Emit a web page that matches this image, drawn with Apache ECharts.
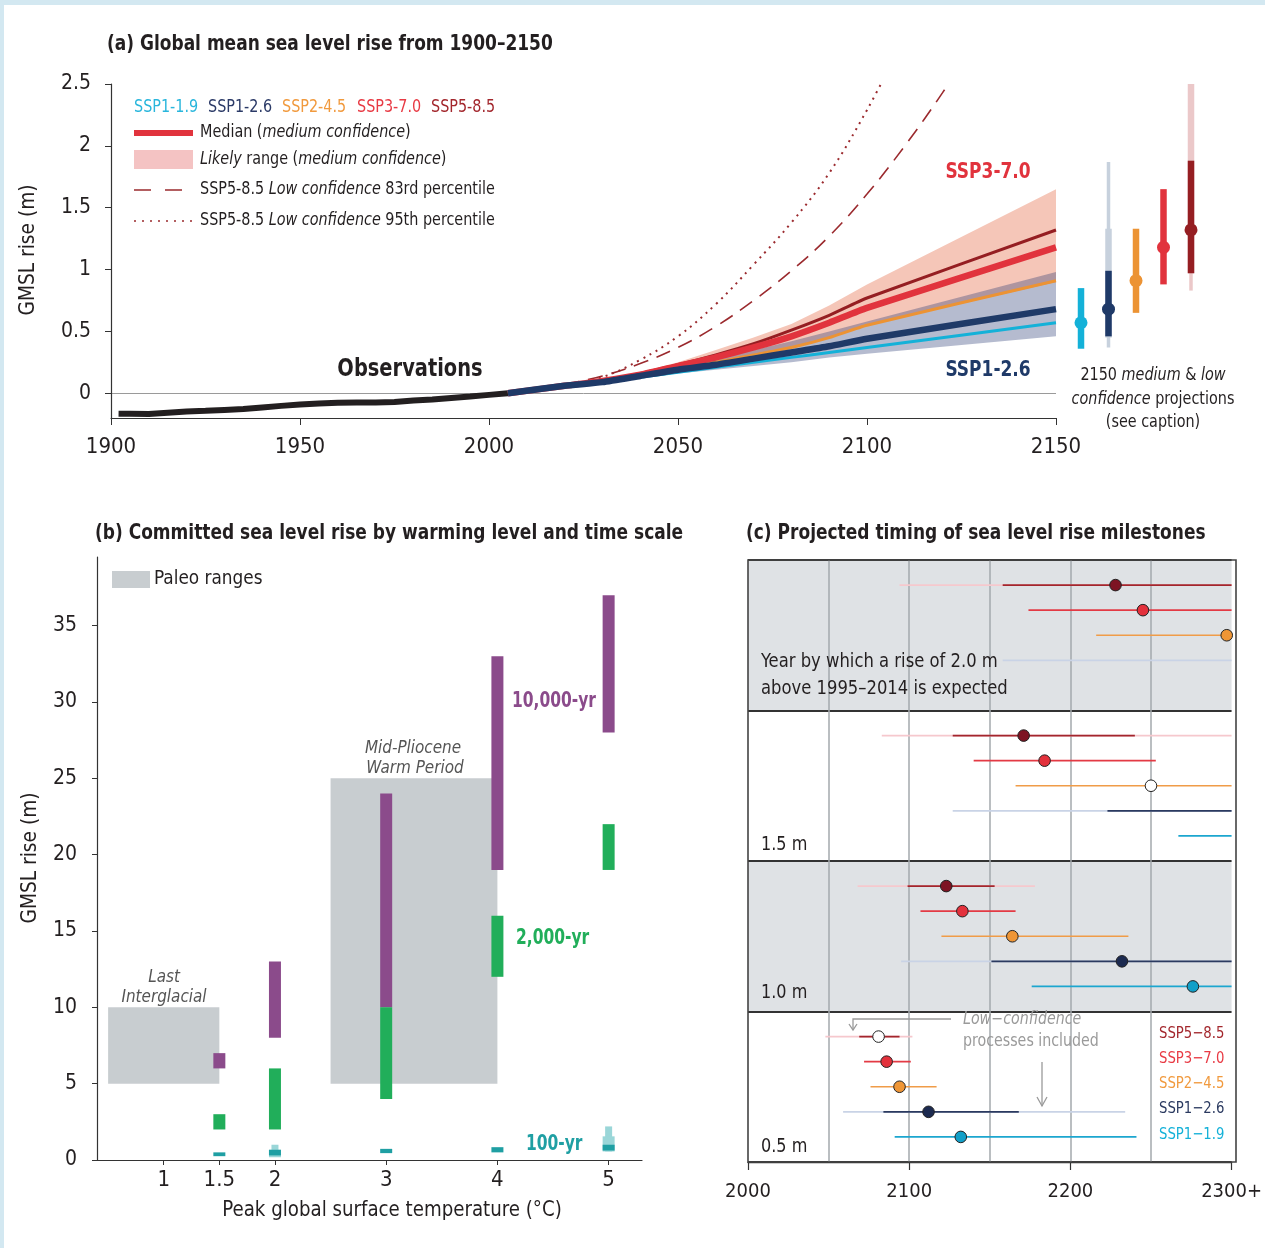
<!DOCTYPE html>
<html><head><meta charset="utf-8">
<script src="https://cdn.jsdelivr.net/npm/echarts@6.0.0/dist/echarts.min.js"></script>
<style>html,body{margin:0;padding:0;background:#fff}#c{width:1265px;height:1248px}</style>
</head><body><div id="c"></div><script>
const F = "'Liberation Sans Narrow','DejaVu Sans Condensed',sans-serif";
const INK = '#231f20';
// ---------- Panel (a): observations ----------
const obsYears = [1902,1905,1910,1915,1920,1925,1930,1935,1940,1945,1950,1955,1960,1965,1970,1975,1980,1985,1990,1995,2000,2005];
const obsRise  = [-0.165,-0.166,-0.168,-0.158,-0.148,-0.142,-0.135,-0.128,-0.115,-0.102,-0.09,-0.083,-0.077,-0.075,-0.075,-0.07,-0.058,-0.05,-0.038,-0.026,-0.013,0.0];
// ---------- Panel (a): projections (medians) ----------
const projYears = [2005,2020,2030,2040,2050,2060,2070,2080,2090,2100,2150];
const ssp119 = [0,0.06,0.09,0.13,0.17,0.21,0.25,0.29,0.33,0.37,0.57];
const ssp126 = [0,0.06,0.09,0.14,0.19,0.23,0.28,0.33,0.38,0.44,0.68];
const ssp245 = [0,0.06,0.10,0.14,0.20,0.25,0.31,0.37,0.45,0.55,0.91];
const ssp370 = [0,0.06,0.10,0.15,0.22,0.29,0.37,0.46,0.57,0.69,1.18];
const ssp585 = [0,0.06,0.10,0.16,0.23,0.31,0.40,0.51,0.63,0.77,1.32];
// likely ranges
const ssp370Lo = [0,0.05,0.08,0.12,0.18,0.24,0.30,0.37,0.45,0.55,0.90];
const ssp370Hi = [0,0.07,0.11,0.17,0.25,0.35,0.45,0.56,0.71,0.88,1.65];
const ssp126Lo = [0,0.05,0.08,0.12,0.16,0.19,0.22,0.25,0.29,0.32,0.46];
const ssp126Hi = [0,0.07,0.11,0.16,0.22,0.28,0.35,0.42,0.50,0.58,0.98];
// low confidence SSP5-8.5
const lc83Years = [2020,2030,2040,2050,2060,2070,2080,2090,2100,2110,2120,2126];
const lc83 = [0.07,0.14,0.24,0.37,0.54,0.75,0.99,1.27,1.61,2.00,2.43,2.72];
const lc95Years = [2020,2030,2040,2050,2060,2070,2080,2090,2100,2107];
const lc95 = [0.06,0.13,0.27,0.46,0.72,1.04,1.38,1.78,2.29,2.70];
const aXTicks = [1900,1950,2000,2050,2100,2150];
const aYTicks = [0,0.5,1,1.5,2,2.5];
// 2150 bars (SSP1-1.9, SSP1-2.6, SSP2-4.5, SSP3-7.0, SSP5-8.5)
const b2150Pos = [1,2,3,4,5];
const b2150Median = [0.57,0.68,0.91,1.18,1.32];
const b2150Likely = [[0.36,0.85],[0.46,0.99],[0.65,1.33],[0.88,1.65],[0.97,1.88]];
const b2150Low83 = [null,[0.45,1.33],null,null,[0.97,2.5]];
const b2150Low95 = [null,[0.37,1.87],null,null,[0.83,2.5]];
// ---------- Panel (b) ----------
const bTemps = [1.5,2,3,4,5];
const b10000 = [[6,7],[8,13],[10,24],[19,33],[28,37]];
const b2000  = [[2,3],[2,6],[4,10],[12,16],[19,22]];
const b100   = [[0.25,0.5],[0.3,0.67],[0.45,0.73],[0.5,0.84],[0.62,1.0]];
const b100Low83 = [null,[0.18,0.67],null,null,[0.56,1.55]];
const b100Low95 = [null,[0.2,1.0],null,null,[0.56,2.2]];
const paleo = [[0.5,1.5,5,10],[2.5,4.0,5,25]];
const bXTicks = [1,1.5,2,3,4,5];
const bYTicks = [0,5,10,15,20,25,30,35];
// ---------- Panel (c) ----------
const cMilestones = ['2.0 m','1.5 m','1.0 m','0.5 m'];
const cScen = ['SSP5\u22128.5','SSP3\u22127.0','SSP2\u22124.5','SSP1\u22122.6','SSP1\u22121.9'];
// [scenario, lowConfLo, lowConfHi, likelyLo, likelyHi, median, openCircle]
const c20 = [[0,2094,2300,2158,2300,2228,0],[1,null,null,2174,2300,2245,0],[2,null,null,2216,2300,2297,0],[3,2158,2300,null,null,null,0]];
const c15 = [[0,2083,2300,2127,2240,2171,0],[1,null,null,2140,2253,2184,0],[2,null,null,2166,2300,2250,1],[3,2127,2300,2223,2300,null,0],[4,null,null,2267,2300,null,0]];
const c10 = [[0,2068,2178,2099,2153,2123,0],[1,null,null,2107,2166,2133,0],[2,null,null,2120,2236,2164,0],[3,2095,2300,2151,2300,2232,0],[4,null,null,2176,2300,2276,0]];
const c05 = [[0,2048,2102,2069,2094,2081,1],[1,null,null,2072,2101,2086,0],[2,null,null,2076,2117,2094,0],[3,2059,2234,2084,2168,2112,0],[4,null,null,2091,2241,2132,0]];
const cXTicks = [2000,2100,2200,2300];
const cGridYears = [2050,2100,2150,2200,2250];

// colours
const COL = {s119:'#14b1d8', s126:'#1f3a68', s245:'#ec9334', s370:'#e1333d', s585:'#951e22'};
const cLine = ['#a3262d','#e33a44','#f09c48','#2b3a60','#1ca6cf'];
const cLight = ['#f6c8cd','#f7c3c6','#f9d9b0','#c9d3e6','#b5e3ef'];
const cDot = ['#7d1423','#e3313c','#ef9636','#1c2a50','#129fc8'];

function pairs(xs, ys){ return xs.map((x,i)=>[x,ys[i]]); }
function bandSeries(years, lo, hi, color, opacity, z){
  return {type:'custom', xAxisIndex:0, yAxisIndex:0, silent:true, z, data:[[2100,0]],
    renderItem(params, api){
      const pts=[];
      for(let i=0;i<years.length;i++) pts.push(api.coord([years[i],hi[i]]));
      for(let i=years.length-1;i>=0;i--) pts.push(api.coord([years[i],lo[i]]));
      return {type:'polygon', shape:{points:pts}, style:{fill:color, opacity}};
    }};
}
function lineSeries(xs, ys, color, width, z, extra){
  return Object.assign({type:'line', xAxisIndex:0, yAxisIndex:0, data:pairs(xs,ys), symbol:'none', silent:true, z,
    lineStyle:{color, width, cap:'butt'}}, extra||{});
}
function txt(x, y, text, o){
  o = o || {};
  const st = {text, fill:o.color||INK, fontSize:o.size||18, fontFamily:F, fontWeight:o.weight||'normal',
    fontStyle:o.style||'normal', align:o.align||'left', verticalAlign:o.va||'middle',
    textAlign:o.align||'left', textVerticalAlign:o.va||'middle'};
  if(o.rich) st.rich = o.rich;
  const sx = o.sx || (o.weight==='bold' ? 0.86 : 0.94);
  return {type:'text', x, y, rotation:o.rot||0, scaleX:sx, scaleY:1, z:50, silent:true, style:st};
}
function richIt(size, color){
  return {i:{fontStyle:'italic', fontSize:size, fontFamily:F, fill:color||INK, color:color||INK},
          n:{fontSize:size, fontFamily:F, fill:color||INK, color:color||INK}};
}
const axisLab = (size, margin, vals, fmt) => ({customValues:vals, fontSize:size, fontFamily:F, color:INK, margin, formatter:fmt});

const chart = echarts.init(document.getElementById('c'), null, {renderer:'canvas'});

const series = [];
// (a) bands
series.push(bandSeries(projYears, ssp370Lo, ssp370Hi, '#f5c6b8', 1, 1));
series.push(bandSeries(projYears, ssp126Lo, ssp126Hi, 'rgb(30,50,110)', 0.33, 2));
// (a) observations + zero line
series.push(lineSeries(obsYears, obsRise, INK, 6, 5, {markLine:{silent:true, symbol:'none', label:{show:false},
  lineStyle:{color:'#9a9a9a', width:1, type:'solid'}, data:[{yAxis:0}], z:0}}));
series.push(lineSeries(lc95Years, lc95, '#9b2a2e', 2, 3, {smooth:0.4, lineStyle:{color:'#9b2a2e', width:2, type:[2,5]}}));
series.push(lineSeries(lc83Years, lc83, '#9b2a2e', 1.6, 3, {smooth:0.4, lineStyle:{color:'#9b2a2e', width:1.6, type:[15,9]}}));
series.push(lineSeries(projYears, ssp119, COL.s119, 3, 4, {smooth:0.2}));
series.push(lineSeries(projYears, ssp245, COL.s245, 3, 4, {smooth:0.2}));
series.push(lineSeries(projYears, ssp585, COL.s585, 3, 4, {smooth:0.2}));
series.push(lineSeries(projYears, ssp370, COL.s370, 6.5, 5, {smooth:0.2}));
series.push(lineSeries(projYears, ssp126, COL.s126, 6.5, 6, {smooth:0.2}));

// (a) 2150 bars
const bColors = [COL.s119, COL.s126, COL.s245, COL.s370, COL.s585];
const bLight = ['#b5e3ef','#c7d1dd','#f9d9b0','#f7c3c6','#ebc8c9'];
series.push({type:'custom', xAxisIndex:1, yAxisIndex:1, silent:true, z:5,
  data: b2150Pos.map((p,i)=>[p, b2150Median[i]]),
  renderItem(params, api){
    const i = params.dataIndex, x = api.value(0);
    const ch = [];
    const seg = (r,w,color)=>{ if(!r) return; const a=api.coord([x,r[1]]), b=api.coord([x,r[0]]);
      ch.push({type:'rect', shape:{x:a[0]-w/2, y:a[1], width:w, height:b[1]-a[1]}, style:{fill:color}}); };
    seg(b2150Low95[i], 3.5, bLight[i]);
    seg(b2150Low83[i], 6.5, bLight[i]);
    seg(b2150Likely[i], 6.5, bColors[i]);
    const c = api.coord([x, api.value(1)]);
    ch.push({type:'circle', shape:{cx:c[0], cy:c[1], r:6.5}, style:{fill:bColors[i]}});
    return {type:'group', children:ch};
  }});

// (b) paleo boxes
series.push({type:'custom', xAxisIndex:2, yAxisIndex:2, silent:true, z:1, data:paleo,
  renderItem(params, api){
    const a = api.coord([api.value(0), api.value(3)]), b = api.coord([api.value(1), api.value(2)]);
    return {type:'rect', shape:{x:a[0], y:a[1], width:b[0]-a[0], height:b[1]-a[1]}, style:{fill:'#c8cdd0'}};
  }});
// (b) committed bars
series.push({type:'custom', xAxisIndex:2, yAxisIndex:2, silent:true, z:3,
  data: bTemps.map((t,i)=>[t, b10000[i][0]]),
  renderItem(params, api){
    const i = params.dataIndex, x = api.value(0);
    const ch = [];
    const seg = (r,w,color)=>{ if(!r) return; const a=api.coord([x,r[1]]), b=api.coord([x,r[0]]);
      ch.push({type:'rect', shape:{x:a[0]-w/2, y:a[1], width:w, height:b[1]-a[1]}, style:{fill:color}}); };
    seg(b10000[i], 12, '#8b4b8b');
    seg(b2000[i], 12, '#21ae5a');
    seg(b100Low95[i], 7, '#9ad6d8');
    seg(b100Low83[i], 12, '#9ad6d8');
    seg(b100[i], 12, '#1f9fa3');
    return {type:'group', children:ch};
  }});

// (c) vertical grid lines
series.push({type:'line', xAxisIndex:3, yAxisIndex:3, data:[], z:1, silent:true,
  markLine:{silent:true, symbol:'none', label:{show:false}, lineStyle:{color:'#a3a8ad', width:1.5, type:'solid'},
    data: cGridYears.map(v=>({xAxis:v}))}});
// (c) milestone rows
const cRows = [];
[c20,c15,c10,c05].forEach((arr,b)=>arr.forEach(r=>cRows.push([b].concat(r))));
series.push({type:'custom', xAxisIndex:3, yAxisIndex:3, silent:true, z:5,
  data: cRows.map(r=>[r[6]==null? 2000 : r[6], r[0]*6 + r[1] + 1]),
  renderItem(params, api){
    const r = cRows[params.dataIndex];
    const s = r[1], y = api.value(1);
    const ch = [];
    const ln = (a,b,color,w)=>{ if(a==null) return; const p0=api.coord([a,y]), p1=api.coord([b,y]);
      ch.push({type:'line', shape:{x1:p0[0],y1:p0[1],x2:p1[0],y2:p1[1]}, style:{stroke:color, lineWidth:w}}); };
    ln(r[2], r[3], cLight[s], 1.8);
    ln(r[4], r[5], cLine[s], 1.6);
    if(r[6]!=null){
      const c = api.coord([r[6], y]);
      ch.push({type:'circle', shape:{cx:c[0], cy:c[1], r:5.8}, style:{fill: r[7] ? '#ffffff' : cDot[s], stroke:'#222', lineWidth:1}});
    }
    return {type:'group', children:ch};
  }});

const graphics = [
  {type:'rect', shape:{x:0,y:0,width:1265,height:5}, style:{fill:'#d3e8f1'}, silent:true},
  {type:'rect', shape:{x:0,y:0,width:4,height:1248}, style:{fill:'#d3e8f1'}, silent:true},
  // titles
  txt(107, 44, '(a) Global mean sea level rise from 1900\u20132150', {size:22, weight:'bold'}),
  txt(95, 533, '(b) Committed sea level rise by warming level and time scale', {size:22, weight:'bold'}),
  txt(746, 533, '(c) Projected timing of sea level rise milestones', {size:22, weight:'bold'}),
  // (a) axis name
  txt(28, 250, 'GMSL rise (m)', {size:22, align:'center', rot:Math.PI/2}),
  // (a) legend
  txt(134, 108, 'SSP1-1.9', {size:17, color:'#29b6dc'}),
  txt(208, 108, 'SSP1-2.6', {size:17, color:'#2b3a67'}),
  txt(282, 108, 'SSP2-4.5', {size:17, color:'#f19a3e'}),
  txt(357, 108, 'SSP3-7.0', {size:17, color:'#e83a44'}),
  txt(431, 108, 'SSP5-8.5', {size:17, color:'#a3272d'}),
  {type:'rect', shape:{x:134,y:130,width:59,height:6}, style:{fill:'#e1333d'}, silent:true},
  txt(200, 133, '{n|Median (}{i|medium confidence}{n|)}', {size:17, rich:richIt(17)}),
  {type:'rect', shape:{x:134,y:150,width:59,height:19}, style:{fill:'#f4c3c3'}, silent:true},
  txt(200, 160, '{i|Likely}{n| range (}{i|medium confidence}{n|)}', {size:17, rich:richIt(17)}),
  {type:'line', shape:{x1:134,y1:190,x2:188,y2:190}, style:{stroke:'#9b2a2e', lineWidth:1.6, lineDash:[17,14]}, silent:true},
  txt(200, 190, '{n|SSP5-8.5 }{i|Low confidence}{n| 83rd percentile}', {size:17, rich:richIt(17)}),
  {type:'line', shape:{x1:134,y1:221,x2:192,y2:221}, style:{stroke:'#9b2a2e', lineWidth:1.6, lineDash:[2,6]}, silent:true},
  txt(200, 221, '{n|SSP5-8.5 }{i|Low confidence}{n| 95th percentile}', {size:17, rich:richIt(17)}),
  // (a) labels
  txt(410, 370, 'Observations', {size:24, weight:'bold', align:'center', sx:0.9}),
  txt(988, 172, 'SSP3-7.0', {size:22, weight:'bold', align:'center', color:'#e1333d'}),
  txt(988, 370, 'SSP1-2.6', {size:22, weight:'bold', align:'center', color:'#1f3a68'}),
  txt(1153, 376, '{n|2150 }{i|medium}{n| & }{i|low}', {size:17, align:'center', rich:richIt(17)}),
  txt(1153, 400, '{i|confidence}{n| projections}', {size:17, align:'center', rich:richIt(17)}),
  txt(1153, 423, '(see caption)', {size:17, align:'center'}),
  // (b) labels
  txt(30, 858, 'GMSL rise (m)', {size:22, align:'center', rot:Math.PI/2}),
  txt(392, 1210, 'Peak global surface temperature (\u00b0C)', {size:22, align:'center', sx:0.92}),
  {type:'rect', shape:{x:112,y:571,width:38,height:17}, style:{fill:'#c8cdd0'}, silent:true},
  txt(154, 579, 'Paleo ranges', {size:20}),
  txt(164, 977, 'Last', {size:18, style:'italic', align:'center', color:'#555'}),
  txt(164, 997, 'Interglacial', {size:18, style:'italic', align:'center', color:'#555'}),
  txt(413, 748, 'Mid-Pliocene', {size:18, style:'italic', align:'center', color:'#555'}),
  txt(415, 768, 'Warm Period', {size:18, style:'italic', align:'center', color:'#555'}),
  txt(512, 702, '10,000-yr', {size:21, weight:'bold', color:'#8b4b8b', sx:0.82}),
  txt(516, 939, '2,000-yr', {size:21, weight:'bold', color:'#21ae5a', sx:0.82}),
  txt(526, 1145, '100-yr', {size:21, weight:'bold', color:'#1f9fa3', sx:0.82}),
  // (c) labels
  txt(761, 662, 'Year by which a rise of 2.0 m', {size:19, sx:0.96}),
  txt(761, 689, 'above 1995\u20132014 is expected', {size:19, sx:0.96}),
  txt(761, 845, cMilestones[1], {size:19}),
  txt(761, 993, cMilestones[2], {size:19}),
  txt(761, 1147, cMilestones[3], {size:19}),
  txt(1159, 1034, cScen[0], {size:16, color:'#a3272d', sx:0.92}),
  txt(1159, 1059, cScen[1], {size:16, color:'#e83a44', sx:0.92}),
  txt(1159, 1084, cScen[2], {size:16, color:'#f19a3e', sx:0.92}),
  txt(1159, 1109, cScen[3], {size:16, color:'#2b3a60', sx:0.92}),
  txt(1159, 1135, cScen[4], {size:16, color:'#14b1d8', sx:0.92}),
  txt(963, 1020, 'Low\u2212confidence', {size:17, style:'italic', color:'#9a9a9a', sx:0.93}),
  txt(963, 1042, 'processes included', {size:17, color:'#9a9a9a', sx:0.93}),
  {type:'polyline', shape:{points:[[951,1019],[853,1019],[853,1030]]}, style:{stroke:'#9a9a9a', lineWidth:1.3, fill:null}, silent:true, z:40},
  {type:'polyline', shape:{points:[[849,1024],[853,1030],[857,1024]]}, style:{stroke:'#9a9a9a', lineWidth:1.3, fill:null}, silent:true, z:40},
  {type:'line', shape:{x1:1042,y1:1062,x2:1042,y2:1106}, style:{stroke:'#9a9a9a', lineWidth:1.3}, silent:true, z:40},
  {type:'polyline', shape:{points:[[1037,1097],[1042,1106],[1047,1097]]}, style:{stroke:'#9a9a9a', lineWidth:1.3, fill:null}, silent:true, z:40},
  {type:'rect', shape:{x:748,y:560,width:488,height:602}, style:{fill:null, stroke:'#444', lineWidth:1.6}, silent:true, z:60}
];

const option = {
  animation:false,
  backgroundColor:'#ffffff',
  grid:[
    {left:111, top:84, width:945, height:334},
    {left:1053.5, top:84, width:165, height:334},
    {left:97, top:557, width:545, height:603},
    {left:748, top:560, width:488, height:602}
  ],
  xAxis:[
    {gridIndex:0, type:'value', min:1900, max:2150, interval:50,
      axisLine:{show:true, onZero:false, lineStyle:{color:'#333', width:1.2}},
      axisTick:{show:true, length:7, customValues:aXTicks, lineStyle:{color:'#333'}},
      axisLabel:axisLab(22, 18, aXTicks, v=>String(v)), splitLine:{show:false}},
    {gridIndex:1, type:'value', min:0, max:6, show:false},
    {gridIndex:2, type:'value', min:0.4, max:5.3,
      axisLine:{show:true, onZero:false, lineStyle:{color:'#333', width:1.2}},
      axisTick:{show:true, length:5, customValues:bXTicks, lineStyle:{color:'#333'}},
      axisLabel:axisLab(22, 9, bXTicks, v=>String(v)), splitLine:{show:false}},
    {gridIndex:3, type:'value', min:2000, max:2300, interval:50,
      axisLine:{show:true, onZero:false, lineStyle:{color:'#333', width:1.4}},
      axisTick:{show:true, length:8, customValues:cXTicks, lineStyle:{color:'#333', width:1.2}},
      axisLabel:axisLab(20, 20, cXTicks, v=> v===2300 ? '2300+' : String(v)),
      splitLine:{show:false}}
  ],
  yAxis:[
    {gridIndex:0, type:'value', min:-0.2, max:2.5,
      axisLine:{show:true, onZero:false, lineStyle:{color:'#333', width:1.2}},
      axisTick:{show:true, length:6, customValues:aYTicks, lineStyle:{color:'#333'}},
      axisLabel:axisLab(21, 20, aYTicks, v=>String(v)), splitLine:{show:false}},
    {gridIndex:1, type:'value', min:-0.2, max:2.5, show:false},
    {gridIndex:2, type:'value', min:0, max:39.5,
      axisLine:{show:true, onZero:false, lineStyle:{color:'#333', width:1.2}},
      axisTick:{show:true, length:5, customValues:bYTicks, lineStyle:{color:'#333'}},
      axisLabel:axisLab(21, 20, bYTicks, v=>String(v)), splitLine:{show:false}},
    {gridIndex:3, type:'value', min:0, max:24, interval:6, inverse:true,
      axisLine:{show:false}, axisTick:{show:false}, axisLabel:{show:false},
      splitLine:{show:true, lineStyle:{color:'#333', width:2}},
      splitArea:{show:true, areaStyle:{color:['#dfe2e5','#ffffff']}}}
  ],
  series,
  graphic:{elements:graphics}
};
chart.setOption(option);
</script></body></html>
